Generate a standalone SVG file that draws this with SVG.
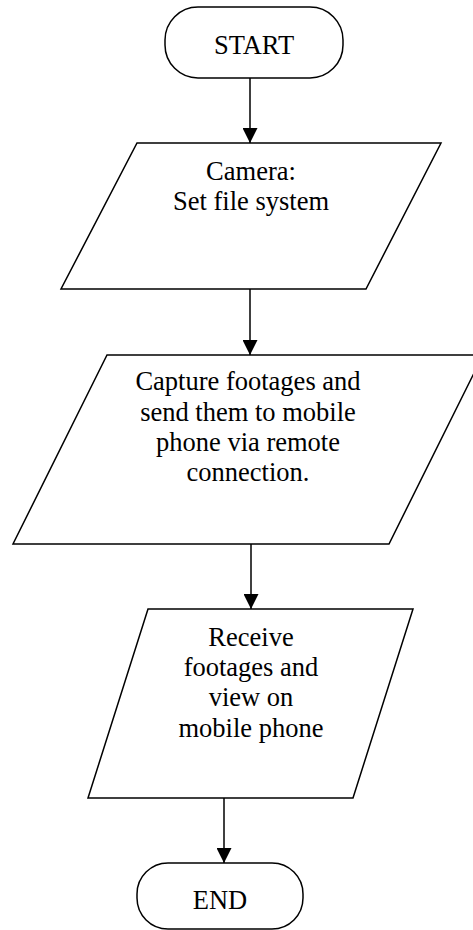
<svg xmlns="http://www.w3.org/2000/svg" width="473" height="930" viewBox="0 0 473 930">
<style>
.s{fill:#fff;stroke:#000;stroke-width:1.5}
.t{font-family:"Liberation Serif","Times New Roman",serif;font-size:26.5px;fill:#000;text-anchor:middle}
.c{stroke:#000;stroke-width:1.5;fill:none}
</style>
<defs>
<marker id="a" viewBox="0 0 10 10" refX="10" refY="5" markerWidth="15" markerHeight="15" markerUnits="userSpaceOnUse" orient="auto">
<path d="M0,0 L10,5 L0,10 Z" fill="#000"/>
</marker>
</defs>
<rect width="473" height="930" fill="#fff"/>
<g id="start">
<rect class="s" x="165" y="7" width="178" height="71" rx="33" ry="33"/>
<text class="t" x="254" y="54">START</text>
</g>
<g id="camera">
<polygon class="s" points="137,143 441,143 366,289 61,289"/>
<text class="t" x="251" y="180">Camera:</text>
<text class="t" x="251" y="210">Set file system</text>
</g>
<g id="capture">
<polygon class="s" points="107,355 483,355 389,544 13,544"/>
<text class="t" x="248" y="390">Capture footages and</text>
<text class="t" x="248" y="421">send them to mobile</text>
<text class="t" x="248" y="451">phone via remote</text>
<text class="t" x="248" y="481">connection.</text>
</g>
<g id="receive">
<polygon class="s" points="148,609 413,609 353,798 88,798"/>
<text class="t" x="251" y="646">Receive</text>
<text class="t" x="251" y="676">footages and</text>
<text class="t" x="251" y="706">view on</text>
<text class="t" x="251" y="737">mobile phone</text>
</g>
<g id="end">
<rect class="s" x="137" y="863" width="166" height="66" rx="31" ry="31"/>
<text class="t" x="220" y="909">END</text>
</g>
<g id="connectors">
<line class="c" x1="250" y1="78" x2="250" y2="143" marker-end="url(#a)"/>
<line class="c" x1="250" y1="289" x2="250" y2="355" marker-end="url(#a)"/>
<line class="c" x1="251" y1="544" x2="251" y2="609" marker-end="url(#a)"/>
<line class="c" x1="224" y1="798" x2="224" y2="863" marker-end="url(#a)"/>
</g>
</svg>
